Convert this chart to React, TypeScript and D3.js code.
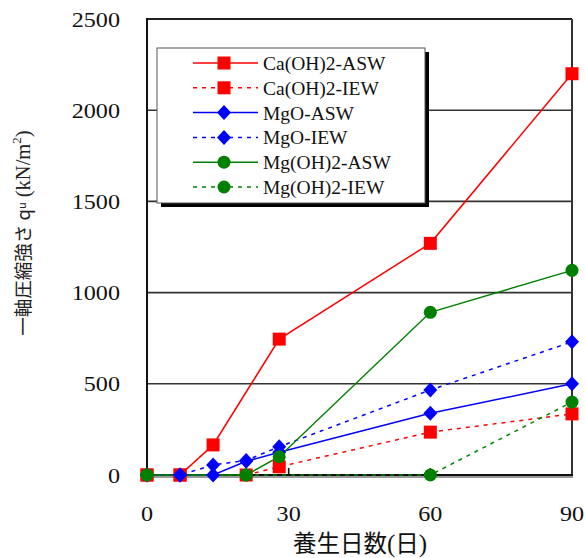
import React from "react";
import * as d3 from "d3";

// Curing days and unconfined compressive strength (kN/m²) per mix
const caAswDays = [0, 7, 14, 28, 60, 90];
const caAswVals = [0, 0, 165, 745, 1270, 2200];
const caIewDays = [0, 7, 21, 28, 60, 90];
const caIewVals = [0, 0, 0, 45, 235, 335];
const mgoAswDays = [0, 7, 14, 21, 28, 60, 90];
const mgoAswVals = [0, 0, 0, 75, 125, 338, 500];
const mgoIewDays = [0, 7, 14, 21, 28, 60, 90];
const mgoIewVals = [0, 0, 55, 80, 155, 466, 730];
const mghAswDays = [0, 21, 28, 60, 90];
const mghAswVals = [0, 0, 100, 892, 1122];
const mghIewDays = [0, 21, 60, 90];
const mghIewVals = [0, 0, 0, 400];

const xTicks = [0, 30, 60, 90];
const yTicks = [0, 500, 1000, 1500, 2000, 2500];

type Marker = "square" | "diamond" | "circle";
interface Series {
  name: string;
  days: number[];
  vals: number[];
  color: string;
  dashed: boolean;
  marker: Marker;
}

const series: Series[] = [
  { name: "Ca(OH)2-ASW", days: caAswDays, vals: caAswVals, color: "#ff0000", dashed: false, marker: "square" },
  { name: "Ca(OH)2-IEW", days: caIewDays, vals: caIewVals, color: "#ff0000", dashed: true, marker: "square" },
  { name: "MgO-ASW", days: mgoAswDays, vals: mgoAswVals, color: "#0000ff", dashed: false, marker: "diamond" },
  { name: "MgO-IEW", days: mgoIewDays, vals: mgoIewVals, color: "#0000ff", dashed: true, marker: "diamond" },
  { name: "Mg(OH)2-ASW", days: mghAswDays, vals: mghAswVals, color: "#008000", dashed: false, marker: "circle" },
  { name: "Mg(OH)2-IEW", days: mghIewDays, vals: mghIewVals, color: "#008000", dashed: true, marker: "circle" },
];

const W = 585;
const H = 558;
const left = 147;
const right = 572;
const top = 19;
const bottom = 475;

const x = d3.scaleLinear().domain([0, 90]).range([left, right]);
const y = d3.scaleLinear().domain([0, 2500]).range([bottom, top]);

const serif = "'Liberation Serif', 'Times New Roman', serif";
const cjk = "'Noto Sans CJK JP', sans-serif";

function MarkerShape({ type, cx, cy, color }: { type: Marker; cx: number; cy: number; color: string }) {
  if (type === "square") {
    return <rect x={cx - 6.5} y={cy - 6.5} width={13} height={13} fill={color} />;
  }
  if (type === "diamond") {
    const r = 7.5;
    return <path d={`M${cx},${cy - r}L${cx + r - 0.5},${cy}L${cx},${cy + r}L${cx - r + 0.5},${cy}Z`} fill={color} />;
  }
  return <circle cx={cx} cy={cy} r={6.5} fill={color} />;
}

export default function App() {
  const line = d3
    .line<[number, number]>()
    .x((d) => x(d[0]))
    .y((d) => y(d[1]));

  const legendRows = series.map((s, i) => ({ s, cy: 63 + i * 24.8 }));

  return (
    <svg width={W} height={H} style={{ position: "absolute", left: 0, top: 0, background: "#fff" }}>
      {/* horizontal gridlines */}
      {yTicks
        .filter((t) => t > 0 && t < 2500)
        .map((t) => (
          <line key={t} x1={left} x2={right} y1={y(t)} y2={y(t)} stroke="#333" strokeWidth={1.6} />
        ))}

      {/* plot frame */}
      <line x1={left} x2={right} y1={top} y2={top} stroke="#222" strokeWidth={2} />
      <line x1={right} x2={right} y1={top} y2={bottom} stroke="#333" strokeWidth={2} />
      <line x1={left} x2={right + 1} y1={bottom + 2} y2={bottom + 2} stroke="#999" strokeWidth={2} />
      <line x1={left} x2={right + 1} y1={bottom} y2={bottom} stroke="#111" strokeWidth={2} />
      <line x1={left} x2={left} y1={top - 1} y2={bottom + 1} stroke="#111" strokeWidth={2} />

      {/* x ticks pointing inward */}
      {xTicks
        .filter((t) => t > 0 && t < 90)
        .map((t) => (
          <line key={t} x1={x(t)} x2={x(t)} y1={bottom} y2={bottom - 7} stroke="#111" strokeWidth={1.6} />
        ))}

      {/* series lines */}
      {series.map((s) => (
        <path
          key={s.name + "-line"}
          d={line(s.days.map((d, i) => [d, s.vals[i]] as [number, number])) || ""}
          fill="none"
          stroke={s.color}
          strokeWidth={1.5}
          strokeDasharray={s.dashed ? "4,5" : undefined}
        />
      ))}

      {/* series markers */}
      {series.map((s) => (
        <g key={s.name + "-pts"}>
          {s.days.map((d, i) => (
            <MarkerShape key={i} type={s.marker} cx={x(d)} cy={y(s.vals[i])} color={s.color} />
          ))}
        </g>
      ))}

      {/* y tick labels */}
      {yTicks.map((t) => (
        <g key={t} transform={`translate(120,${y(t) + 7.5}) scale(1.15,1)`}>
          <text textAnchor="end" fontFamily={serif} fontSize={21} fill="#111">
            {t}
          </text>
        </g>
      ))}

      {/* x tick labels */}
      {xTicks.map((t) => (
        <g key={t} transform={`translate(${x(t)},521) scale(1.15,1)`}>
          <text textAnchor="middle" fontFamily={serif} fontSize={21} fill="#111">
            {t}
          </text>
        </g>
      ))}

      {/* axis titles */}
      <text x={360} y={552} textAnchor="middle" fontSize={23.5} fill="#111">
        <tspan fontFamily={cjk}>養生日数</tspan>
        <tspan fontFamily={serif} fontSize={25}>(</tspan>
        <tspan fontFamily={cjk}>日</tspan>
        <tspan fontFamily={serif} fontSize={25}>)</tspan>
      </text>
      <text transform="translate(30,233) rotate(-90)" textAnchor="middle" fill="#222">
        <tspan fontFamily={cjk} fontSize={18.5}>一軸圧縮強さ q</tspan>
        <tspan fontFamily={cjk} fontSize={11} dy={-4}>u</tspan>
        <tspan fontFamily={serif} fontSize={20.5} dy={4}>{"  (kN/m"}</tspan>
        <tspan fontFamily={serif} fontSize={13} dy={-9}>2</tspan>
        <tspan fontFamily={serif} fontSize={20.5} dy={9}>)</tspan>
      </text>

      {/* legend */}
      <rect x={161} y={52} width={268} height={155} fill="#000" />
      <rect x={157} y={48} width={268} height={155} fill="#fff" stroke="#555" strokeWidth={1} />
      {legendRows.map(({ s, cy }) => (
        <g key={s.name + "-leg"}>
          <line
            x1={193}
            x2={258}
            y1={cy}
            y2={cy}
            stroke={s.color}
            strokeWidth={1.5}
            strokeDasharray={s.dashed ? "4,5" : undefined}
          />
          <MarkerShape type={s.marker} cx={224} cy={cy} color={s.color} />
          <text x={263} y={cy + 7} fontFamily={serif} fontSize={19.5} fill="#111">
            {s.name}
          </text>
        </g>
      ))}
    </svg>
  );
}
